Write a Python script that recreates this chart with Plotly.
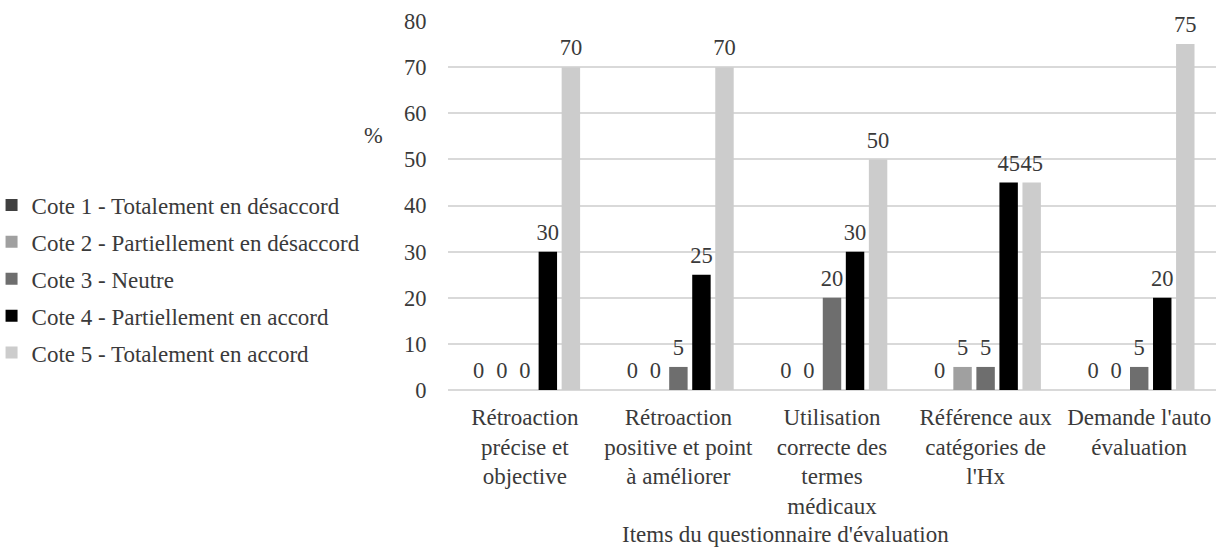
import plotly.graph_objects as go

# Items of the evaluation questionnaire (x categories)
items = [
    "Rétroaction<br>précise et<br>objective",
    "Rétroaction<br>positive et point<br>à améliorer",
    "Utilisation<br>correcte des<br>termes<br>médicaux",
    "Référence aux<br>catégories de<br>l'Hx",
    "Demande l'auto<br>évaluation",
]

# Percentage of answers for each rating level
cote1 = [0, 0, 0, 0, 0]
cote2 = [0, 0, 0, 5, 0]
cote3 = [0, 5, 20, 5, 5]
cote4 = [30, 25, 30, 45, 20]
cote5 = [70, 70, 50, 45, 75]

series_names = [
    "Cote 1 - Totalement en désaccord",
    "Cote 2 - Partiellement en désaccord",
    "Cote 3 - Neutre",
    "Cote 4 - Partiellement en accord",
    "Cote 5 - Totalement en accord",
]
series_values = [cote1, cote2, cote3, cote4, cote5]
series_colors = ["#404040", "#a0a0a0", "#6e6e6e", "#000000", "#cccccc"]

y_ticks = [0, 10, 20, 30, 40, 50, 60, 70, 80]

FONT = "Liberation Serif"
TEXT_COLOR = "#3a3a3a"
FS = 22.5

fig = go.Figure()
for i, (name, vals, col) in enumerate(zip(series_names, series_values, series_colors)):
    fig.add_trace(go.Bar(
        name=name,
        x=items,
        y=vals,
        marker=dict(color=col, line=dict(width=0)),
        # value label, with a short spacer line underneath to lift it off the bar
        texttemplate=f"<span style='font-size:{FS}px'>%{{y}}</span><br> ",
        textposition="outside",
        textfont=dict(family=FONT, size=6, color=TEXT_COLOR),
        constraintext="none",
        cliponaxis=False,
        legendgroup=f"g{i}",
        hoverinfo="x+y+name",
    ))

W, H = 1216, 547
L, R, T, B = 448, 0, 21, 157
PW, PH = W - L - R, H - T - B

fig.update_layout(
    width=W,
    height=H,
    margin=dict(l=L, r=R, t=T, b=B, autoexpand=False),
    plot_bgcolor="white",
    paper_bgcolor="white",
    barmode="group",
    bargap=0.25,
    bargroupgap=0.2,
    font=dict(family=FONT, size=FS, color=TEXT_COLOR),
    legend=dict(
        x=-L / PW - 0.011,
        xanchor="left",
        y=(390 - 279) / PH,
        yanchor="middle",
        font=dict(family=FONT, size=23, color=TEXT_COLOR),
        tracegroupgap=4,
        bgcolor="rgba(0,0,0,0)",
        itemwidth=30,
    ),
    showlegend=True,
)

fig.update_xaxes(
    showgrid=False,
    showline=False,
    ticks="outside",
    ticklen=6,
    tickcolor="rgba(0,0,0,0)",
    tickfont=dict(family=FONT, size=23, color=TEXT_COLOR),
    tickangle=0,
)

fig.update_yaxes(
    range=[0, 80],
    tickvals=y_ticks,
    showgrid=True,
    gridcolor="#d9d9d9",
    gridwidth=1.5,
    zeroline=True,
    zerolinecolor="#d9d9d9",
    zerolinewidth=1.5,
    showline=False,
    ticks="outside",
    ticklen=16,
    tickcolor="rgba(0,0,0,0)",
    tickfont=dict(family=FONT, size=FS, color=TEXT_COLOR),
)

# "%" unit label on the left of the value axis
fig.add_annotation(
    text="%",
    xref="paper", yref="paper",
    x=(373 - L) / PW, y=(390 - 135) / PH,
    showarrow=False,
    font=dict(family=FONT, size=FS, color=TEXT_COLOR),
    xanchor="center", yanchor="middle",
)

# Category axis title
fig.add_annotation(
    text="Items du questionnaire d'évaluation",
    xref="paper", yref="paper",
    x=(785 - L) / PW, y=-(534 - 390) / PH,
    showarrow=False,
    font=dict(family=FONT, size=23, color=TEXT_COLOR),
    xanchor="center", yanchor="middle",
)

fig.write_html("out.html")
